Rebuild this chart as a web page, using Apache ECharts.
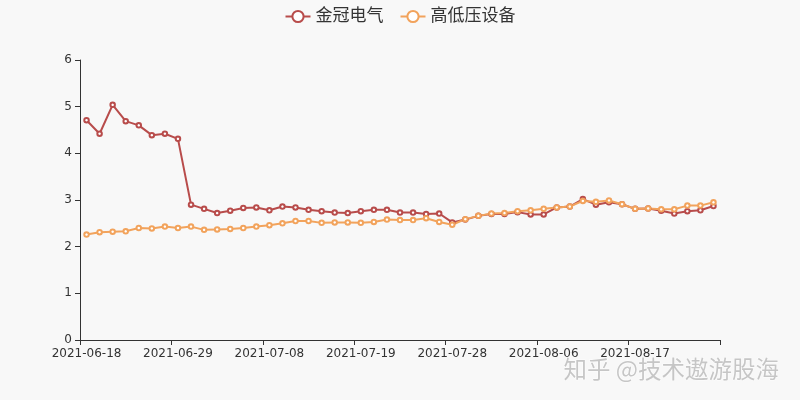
<!DOCTYPE html>
<html>
<head>
<meta charset="utf-8">
<script src="https://cdn.jsdelivr.net/npm/echarts@6/dist/echarts.min.js"></script>
<style>
html,body{margin:0;padding:0;background:#f8f8f8;}
#main{width:800px;height:400px;}
</style>
</head>
<body>
<div id="main"></div>
<script>
var dates = ["2021-06-18","2021-06-21","2021-06-22","2021-06-23","2021-06-24","2021-06-25","2021-06-28",
"2021-06-29","2021-06-30","2021-07-01","2021-07-02","2021-07-05","2021-07-06","2021-07-07",
"2021-07-08","2021-07-09","2021-07-12","2021-07-13","2021-07-14","2021-07-15","2021-07-16",
"2021-07-19","2021-07-20","2021-07-21","2021-07-22","2021-07-23","2021-07-26","2021-07-27",
"2021-07-28","2021-07-29","2021-07-30","2021-08-02","2021-08-03","2021-08-04","2021-08-05",
"2021-08-06","2021-08-09","2021-08-10","2021-08-11","2021-08-12","2021-08-13","2021-08-16",
"2021-08-17","2021-08-18","2021-08-19","2021-08-20","2021-08-23","2021-08-24","2021-08-25"];

var seriesNames = ["金冠电气", "高低压设备"];

var jinguan = [4.71,4.42,5.04,4.69,4.60,4.39,4.42,
4.31,2.90,2.81,2.72,2.77,2.83,2.84,
2.78,2.86,2.84,2.79,2.76,2.73,2.72,
2.76,2.79,2.79,2.73,2.73,2.70,2.71,
2.52,2.58,2.66,2.70,2.70,2.74,2.69,
2.69,2.84,2.86,3.02,2.90,2.95,2.91,
2.81,2.82,2.77,2.71,2.76,2.78,2.87];

var gaodiya = [2.26,2.31,2.32,2.33,2.40,2.39,2.43,
2.40,2.43,2.36,2.37,2.38,2.40,2.43,
2.46,2.50,2.55,2.55,2.51,2.52,2.52,
2.51,2.53,2.58,2.57,2.57,2.61,2.53,
2.47,2.59,2.66,2.71,2.72,2.76,2.78,
2.81,2.84,2.86,2.98,2.96,2.99,2.91,
2.81,2.82,2.80,2.80,2.88,2.88,2.95];

var yTicks = [0,1,2,3,4,5,6];
var watermark = "知乎 @技术遨游股海";

var FONT = "'DejaVu Sans', 'Noto Sans CJK SC', sans-serif";
var chart = echarts.init(document.getElementById('main'), null, {renderer:'canvas'});
var colors = ['#b84c4b', '#f2a35c'];

function mkSeries(name, data, color) {
  return {
    name: name,
    type: 'line',
    data: data,
    symbol: 'emptyCircle',
    symbolSize: 4.5,
    showSymbol: true,
    lineStyle: {width: 2, color: color},
    itemStyle: {color: color, borderWidth: 1},
    animation: false
  };
}

chart.setOption({
  backgroundColor: '#f8f8f8',
  color: colors,
  textStyle: {fontFamily: FONT},
  legend: {
    top: 3,
    left: 'center',
    itemWidth: 25,
    itemHeight: 14,
    itemGap: 16,
    textStyle: {fontSize: 17, color: '#333', fontFamily: FONT},
    data: seriesNames
  },
  grid: {left: 80, right: 80, top: 60, bottom: 60, containLabel: false},
  xAxis: {
    type: 'category',
    data: dates,
    boundaryGap: true,
    axisLine: {lineStyle: {color: '#333'}},
    axisTick: {show: true, interval: 6, lineStyle: {color: '#333'}},
    axisLabel: {interval: 6, color: '#333', fontSize: 12, fontFamily: FONT, margin: 8}
  },
  yAxis: {
    type: 'value',
    min: yTicks[0],
    max: yTicks[yTicks.length - 1],
    interval: 1,
    axisLine: {show: true, lineStyle: {color: '#333'}},
    axisTick: {show: true, lineStyle: {color: '#333'}},
    splitLine: {show: false},
    axisLabel: {color: '#333', fontSize: 12, fontFamily: FONT}
  },
  graphic: [{
    type: 'text',
    left: 563,
    top: 357,
    silent: true,
    style: {
      text: watermark,
      fontSize: 23.5,
      fontFamily: "'Noto Sans CJK SC', sans-serif",
      fill: 'rgba(175,175,175,0.7)',
      stroke: 'rgba(255,255,255,0.8)',
      lineWidth: 1
    }
  }],
  series: [
    mkSeries(seriesNames[0], jinguan, colors[0]),
    mkSeries(seriesNames[1], gaodiya, colors[1])
  ]
});
</script>
</body>
</html>
